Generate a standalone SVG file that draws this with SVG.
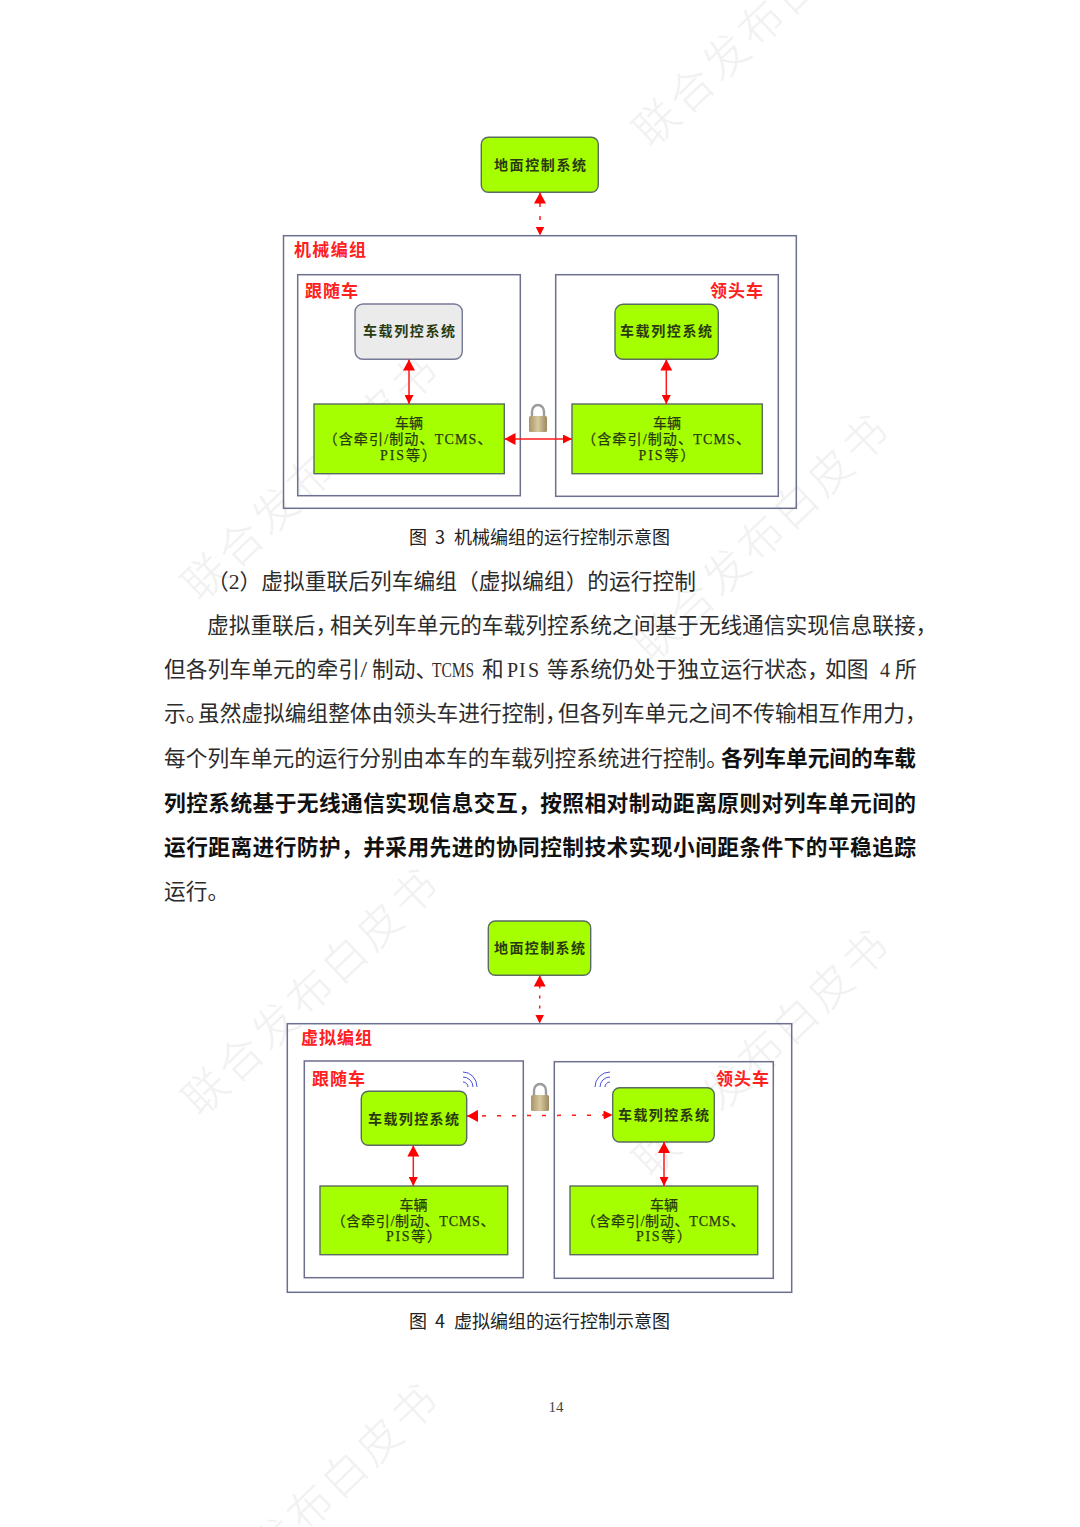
<svg xmlns="http://www.w3.org/2000/svg" width="1080" height="1527" viewBox="0 0 1080 1527">
<style>
text{font-family:"Liberation Serif","Noto Sans CJK SC",serif}
.wm{font-family:"Noto Sans CJK SC",sans-serif;font-size:44px;letter-spacing:4px;fill:#f1f1f1;font-weight:300;text-anchor:middle}
.body{font-size:21.700px;fill:#2c2c2c}
.lat{font-size:20px}
.b{font-weight:bold;fill:#111}
.cap{font-family:"Noto Sans CJK SC",sans-serif;font-size:18px;fill:#222}
.box{fill:none;stroke:#6d6f8f;stroke-width:1.5}
.g{fill:#a6ff00;stroke:#5a6b60;stroke-width:1.4}
.gray{fill:#ebebeb;stroke:#777a96;stroke-width:1.4}
.t{font-size:14px;font-weight:bold;fill:#2a3a10}
.v{font-size:14px;fill:#2a3a10;stroke:#2a3a10;stroke-width:.25;text-anchor:middle}
.r{font-size:17px;font-weight:bold;fill:#ff2020}
.c{fill:none;stroke:#ff1a1a;stroke-width:1.5;marker-start:url(#big);marker-end:url(#small)}
.w{fill:none;stroke:#4a50d8;stroke-width:1}
</style>
<defs>
<marker id="big" markerUnits="userSpaceOnUse" markerWidth="11" markerHeight="12" refX="11" refY="6" orient="auto-start-reverse"><path d="M0,0L11,6L0,12z" fill="#ff0000"/></marker>
<marker id="small" markerUnits="userSpaceOnUse" markerWidth="9" markerHeight="9" refX="9" refY="4.500" orient="auto-start-reverse"><path d="M0,0L9,4.500L0,9z" fill="#ff0000"/></marker>
<linearGradient id="lk" x1="0" y1="0" x2="1" y2="0"><stop offset="0" stop-color="#a89468"/><stop offset=".5" stop-color="#d8c9a0"/><stop offset="1" stop-color="#9c8a60"/></linearGradient>
<g id="lock"><path d="M4,13V7.500a6,6.500 0 0 1 12,0V13" fill="none" stroke="#9a9c9e" stroke-width="2.400"/><rect x="1" y="12" width="18" height="16" rx="1.500" fill="url(#lk)"/></g>
</defs>
<rect width="1080" height="1527" fill="#fff"/>
<g id="watermarks">
<text class="wm" transform="translate(773,33.500) rotate(-43.700)">联合发布白皮书</text>
<text class="wm" transform="translate(322,487.500) rotate(-43.700)">联合发布白皮书</text>
<text class="wm" transform="translate(773,548.500) rotate(-43.700)">联合发布白皮书</text>
<text class="wm" transform="translate(322,1002.500) rotate(-43.700)">联合发布白皮书</text>
<text class="wm" transform="translate(773,1063.500) rotate(-43.700)">联合发布白皮书</text>
<text class="wm" transform="translate(322,1517.500) rotate(-43.700)">联合发布白皮书</text>
</g>
<g id="page-text">
<text class="cap" y="544"><tspan x="409">图</tspan><tspan x="435">3</tspan><tspan x="454">机械编组的运行控制示意图</tspan></text>
<text class="body" x="207" y="589" textLength="489">（2）虚拟重联后列车编组（虚拟编组）的运行控制</text>
<text class="body" y="633"><tspan x="207">虚拟重联后，</tspan><tspan x="330">相关列车单元的车载列控系统之间基于无线通信实现信息联接，</tspan></text>
<text class="body" x="164" y="677" textLength="196">但各列车单元的牵引</text>
<text class="body lat" x="360.500" y="677" style="font-size:24px">/</text>
<text class="body" x="372" y="677">制动、</text>
<text class="body lat" x="432" y="677" textLength="42" lengthAdjust="spacingAndGlyphs">TCMS</text>
<text class="body" y="677"><tspan x="482">和</tspan><tspan class="lat" x="507 519 528">PIS</tspan><tspan x="547">等系统仍处于独立运行状态，</tspan><tspan x="825">如图</tspan><tspan class="lat" x="880">4</tspan><tspan x="895">所</tspan></text>
<text class="body" y="721"><tspan x="164">示。</tspan><tspan x="198">虽然虚拟编组整体由领头车进行控制，</tspan><tspan x="558">但各列车单元之间不传输相互作用力，</tspan></text>
<text class="body" x="164" y="766">每个列车单元的运行分别由本车的车载列控系统进行控制。</text>
<text class="body b" x="721" y="766" textLength="195">各列车单元间的车载</text>
<text class="body b" x="164" y="811" textLength="752">列控系统基于无线通信实现信息交互，按照相对制动距离原则对列车单元间的</text>
<text class="body b" x="164" y="855" textLength="752">运行距离进行防护，并采用先进的协同控制技术实现小间距条件下的平稳追踪</text>
<text class="body" x="164" y="899">运行。</text>
<text class="cap" y="1328"><tspan x="409">图</tspan><tspan x="435">4</tspan><tspan x="454">虚拟编组的运行控制示意图</tspan></text>
<text x="556" y="1412" font-size="15" fill="#444" text-anchor="middle">14</text>
</g>

<g id="fig3-group"><rect class="box" x="283.500" y="235.700" width="512.800" height="272.600"/><text class="r" x="294" y="256" textLength="72">机械编组</text></g>
<g id="fig3-follower"><rect class="box" x="297.700" y="274.700" width="222.600" height="221"/><text class="r" x="305" y="297" textLength="53">跟随车</text></g>
<g id="fig3-leader"><rect class="box" x="555.700" y="274.700" width="222.600" height="221.600"/><text class="r" x="710" y="297" textLength="53">领头车</text></g>
<g id="fig3-ground"><rect class="g" x="481.300" y="137.300" width="117" height="55" rx="7"/><text class="t" x="494" y="170" textLength="92">地面控制系统</text></g>
<g id="fig3-atp-follower"><rect class="gray" x="355" y="304" width="107.300" height="55.300" rx="8"/><text class="t" x="363" y="336" textLength="92">车载列控系统</text></g>
<g id="fig3-atp-leader"><rect class="g" x="615" y="304.300" width="103.300" height="55" rx="8"/><text class="t" x="620" y="336" textLength="92">车载列控系统</text></g>
<g id="fig3-vehicle-follower"><rect class="g" x="314" y="404" width="190.300" height="69.700"/>
<text class="v" x="409" y="427.500">车辆</text><text class="v" x="407.500" y="444" textLength="168">（含牵引/制动、TCMS、</text><text class="v" x="408" y="460" textLength="56">PIS等）</text></g>
<g id="fig3-vehicle-leader"><rect class="g" x="572" y="404" width="190.300" height="69.700"/>
<text class="v" x="667" y="427.500">车辆</text><text class="v" x="666" y="444" textLength="168">（含牵引/制动、TCMS、</text><text class="v" x="666.500" y="460" textLength="56">PIS等）</text></g>
<g id="fig3-lock"><use href="#lock" x="528" y="404"/></g>

<g id="fig4-group"><rect class="box" x="287.300" y="1023.700" width="504.400" height="268.600"/><text class="r" x="301" y="1044" textLength="71">虚拟编组</text></g>
<g id="fig4-follower"><rect class="box" x="304.300" y="1061" width="219" height="216.700"/><text class="r" x="312" y="1085" textLength="53">跟随车</text></g>
<g id="fig4-leader"><rect class="box" x="554.300" y="1061.700" width="219" height="216.600"/><text class="r" x="716" y="1085" textLength="53">领头车</text></g>
<g id="fig4-ground"><rect class="g" x="488.300" y="921" width="102.400" height="54.300" rx="7"/><text class="t" x="494" y="953" textLength="91">地面控制系统</text></g>
<g id="fig4-atp-follower"><rect class="g" x="361.300" y="1091.300" width="105.400" height="54" rx="7"/><text class="t" x="368" y="1124" textLength="91">车载列控系统</text></g>
<g id="fig4-atp-leader"><rect class="g" x="612.700" y="1087.700" width="101.600" height="54.300" rx="7"/><text class="t" x="618" y="1120" textLength="91">车载列控系统</text></g>
<g id="fig4-vehicle-follower"><rect class="g" x="320" y="1186" width="187.700" height="68.700"/>
<text class="v" x="413.500" y="1209.500">车辆</text><text class="v" x="413" y="1225.500" textLength="163">（含牵引/制动、TCMS、</text><text class="v" x="413.500" y="1241" textLength="55">PIS等）</text></g>
<g id="fig4-vehicle-leader"><rect class="g" x="570" y="1186" width="187.700" height="68.700"/>
<text class="v" x="664" y="1209.500">车辆</text><text class="v" x="663" y="1225.500" textLength="163">（含牵引/制动、TCMS、</text><text class="v" x="663.500" y="1241" textLength="55">PIS等）</text></g>
<g id="fig4-lock"><use href="#lock" x="530" y="1083"/></g>
<g id="fig4-wifi-follower"><path class="w" d="M463,1082a5,5 0 0 1 5,5M463,1077a10,10 0 0 1 10,10M463,1072a14,15 0 0 1 14,15"/></g>
<g id="fig4-wifi-leader"><path class="w" d="M610,1082a5,5 0 0 0 -5,5M610,1077a10,10 0 0 0 -10,10M610,1072a15,15 0 0 0 -15,15"/></g>

<g id="connectors">
<line class="c" stroke-dasharray="4 9" stroke-dashoffset="2.500" x1="540" y1="192.500" x2="540" y2="235.500"/>
<line class="c" x1="409" y1="359.500" x2="409" y2="404"/>
<line class="c" x1="666.300" y1="359.500" x2="666.300" y2="404"/>
<line class="c" x1="504.500" y1="439" x2="572" y2="439"/>
<line class="c" stroke-dasharray="3 7" x1="539.700" y1="975.500" x2="539.700" y2="1023.500"/>
<line class="c" x1="413.300" y1="1145.500" x2="413.300" y2="1186"/>
<line class="c" x1="664" y1="1142" x2="664" y2="1186"/>
<path class="c" stroke-dasharray="4 11" d="M467,1116L540,1115.500L612.500,1115"/>
</g>
</svg>
